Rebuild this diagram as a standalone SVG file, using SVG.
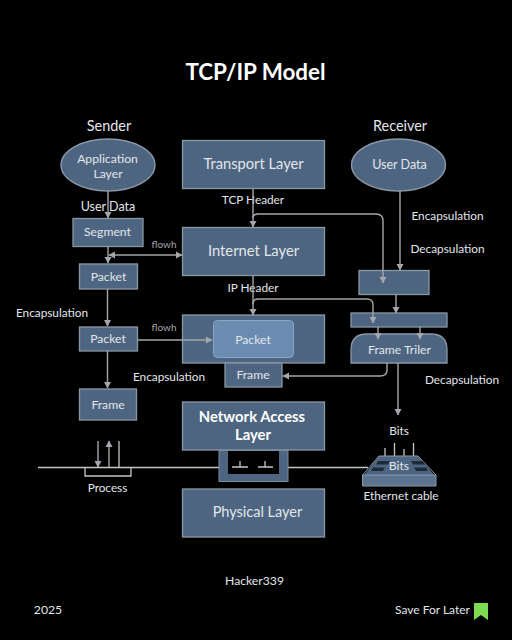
<svg xmlns="http://www.w3.org/2000/svg" width="512" height="640" viewBox="0 0 512 640">
<style>
text{font-family:"Lato","Open Sans",sans-serif;fill:#e2e6ea;text-anchor:middle}
.n{fill:#4d6580;stroke:#8b97a5;stroke-width:1.3}
.c{fill:none;stroke:#a3a6aa;stroke-width:1.4}
.w{fill:none;stroke:#c4c6c8;stroke-width:1.3}
.m{font-size:11.8px}
.s{font-size:12.2px}
.f{font-size:10px;fill:#a4a7aa}
</style>
<defs>
<marker id="a" markerUnits="userSpaceOnUse" markerWidth="8" markerHeight="8" refX="6" refY="4" orient="auto-start-reverse"><path d="M0 0.500L6.500 4L0 7.500z" fill="#a3a6aa"/></marker>
</defs>
<rect width="512" height="640" fill="#000"/>
<text x="255.500" y="80" font-size="22.400" font-weight="700" style="fill:#fff">TCP/IP Model</text>
<text x="109" y="131" font-size="14.400">Sender</text>
<text x="400" y="131" font-size="14.400">Receiver</text>

<g id="application-layer"><ellipse class="n" cx="108" cy="165" rx="47" ry="26"/><text x="107.500" y="163" font-size="12.200">Application</text><text x="108" y="177.500" font-size="12.200">Layer</text></g>
<text x="108" y="211" font-size="12.500">User Data</text>
<g id="segment"><rect class="n" x="73" y="218.500" width="70" height="28"/><text class="s" x="107.500" y="236">Segment</text></g>
<text class="f" x="164" y="248">flowh</text>
<g id="packet-1"><rect class="n" x="79.500" y="264" width="58" height="25"/><text class="s" x="108.500" y="280.500">Packet</text></g>
<text class="m" x="52" y="316.500">Encapsulation</text>
<g id="packet-2"><rect class="n" x="79.500" y="327" width="58" height="24"/><text class="s" x="108" y="342.500">Packet</text></g>
<text class="f" x="164" y="331">flowh</text>
<g id="frame-1"><rect class="n" x="79.500" y="389" width="57" height="31"/><text class="s" x="108" y="408.500">Frame</text></g>

<g id="transport-layer"><rect class="n" x="182.500" y="140.500" width="142" height="48"/><text x="253.500" y="169" font-size="14.700">Transport Layer</text></g>
<text class="m" x="253" y="203.500">TCP Header</text>
<g id="internet-layer"><rect class="n" x="182.500" y="227.500" width="142" height="48"/><text x="253.500" y="256" font-size="14.800">Internet Layer</text></g>
<text class="m" x="253" y="291.500">IP Header</text>
<g id="packet-layer"><rect class="n" x="182.500" y="315" width="142" height="48"/><rect x="213.500" y="320.500" width="80" height="37" rx="4" fill="#6a8cb0" stroke="#8ba5c3" stroke-width="1"/><text class="s" x="253" y="343.500">Packet</text></g>
<g id="frame-2"><rect class="n" x="225" y="363" width="57" height="24"/><text class="s" x="253" y="379">Frame</text></g>
<text class="m" x="169" y="380.500">Encapsulation</text>

<g id="network-access-layer"><rect class="n" x="182.500" y="402" width="142" height="48"/><text x="252" y="422" font-size="14.800" font-weight="700" style="fill:#fff">Network Access</text><text x="253" y="440" font-size="14.800" font-weight="700" style="fill:#fff">Layer</text></g>
<g id="physical-layer"><rect class="n" x="182.500" y="489" width="142" height="48"/><text x="257.500" y="517" font-size="14.500">Physical Layer</text></g>

<g id="wire"><path class="w" d="M38 467.500H219M288 467.500H368"/>
<rect x="219" y="450.500" width="69" height="31" fill="#4d6580" stroke="#7e8c9c" stroke-width="1"/>
<rect x="228" y="451" width="51" height="23" fill="#000"/>
<path class="w" d="M232 467H248M240 467V461M258 467H273M265 467V461"/>
<path class="w" d="M85 467.500V476H131V467.500"/>
<path class="c" d="M98 467V441" marker-start="url(#a)"/>
<path class="c" d="M109 467V441" marker-end="url(#a)"/>
<path class="w" d="M119 467V441"/>
</g>
<text class="m" x="107.500" y="491.500">Process</text>

<g id="user-data"><ellipse class="n" cx="398.500" cy="165" rx="47" ry="26"/><text x="399.500" y="169" font-size="12.500">User Data</text></g>
<text class="m" x="447.500" y="219.500">Encapsulation</text>
<text class="m" x="447.500" y="252.500">Decapsulation</text>
<g id="box-1"><rect class="n" x="359" y="270.500" width="70" height="24"/></g>
<g id="box-2"><rect class="n" x="351" y="313" width="96" height="14"/></g>
<g id="frame-trailer"><path class="n" d="M351 363V350Q351 334 367 334H431Q447 334 447 350V363z"/><text class="s" x="399.500" y="353.500">Frame Triler</text></g>
<text class="m" x="462" y="383.500">Decapsulation</text>
<text class="m" x="399" y="434.500">Bits</text>
<g id="ethernet-switch">
<path class="w" d="M385 456V448M394.500 456V443M404 456V449M413.500 456V443"/>
<path d="M362.500 477L379 456H418L436 477V486H362.500z" fill="#4d6580"/>
<path d="M362.500 475H436V486H362.500z" fill="#5b7490" stroke="#8b97a5" stroke-width="1"/>
<path d="M362.500 475L379 456H418L436 475" fill="none" stroke="#8b97a5" stroke-width="1"/>
<path d="M378 461H390L388 464.500H376zM411 461H423L425 464.500H413zM373 467.500H385L383 471H371zM414 467.500H426L428 471H416z" fill="#1e2a38"/>
<text class="s" x="399" y="470">Bits</text>
</g>
<text class="m" x="401" y="500">Ethernet cable</text>

<text class="s" x="254.500" y="585">Hacker339</text>
<text class="s" x="48" y="614">2025</text>
<text x="432.500" y="614" font-size="12">Save For Later</text>
<path id="bookmark" d="M474 603H488V620L481 615L474 620z" fill="#7ddc50"/>

<g id="connectors">
<path class="c" d="M108 191V218" marker-end="url(#a)"/>
<path class="c" d="M108 246.500V263" marker-end="url(#a)"/>
<path class="c" d="M109 255H182" marker-start="url(#a)" marker-end="url(#a)"/>
<path class="c" d="M107.500 289V326" marker-end="url(#a)"/>
<path class="c" d="M107.500 351V388" marker-end="url(#a)"/>
<path class="c" d="M137.500 340H212" marker-end="url(#a)"/>
<path class="c" d="M253 189V227" marker-end="url(#a)"/>
<path class="c" d="M253 218Q253 214 258 214H376Q383 214 383 221V283" marker-end="url(#a)"/>
<path class="c" d="M400 191V270" marker-end="url(#a)"/>
<path class="c" d="M396 295V313" marker-end="url(#a)"/>
<path class="c" d="M253 276V315" marker-end="url(#a)"/>
<path class="c" d="M253 304Q253 299 258 299H367Q373 299 373 305V323" marker-end="url(#a)"/>
<path class="c" d="M378 327V339" marker-end="url(#a)"/>
<path class="c" d="M420 327V339" marker-end="url(#a)"/>
<path class="c" d="M387 363V370Q387 376 380 376H283" marker-end="url(#a)"/>
<path class="c" d="M398 363V415" marker-end="url(#a)"/>
</g>
</svg>
